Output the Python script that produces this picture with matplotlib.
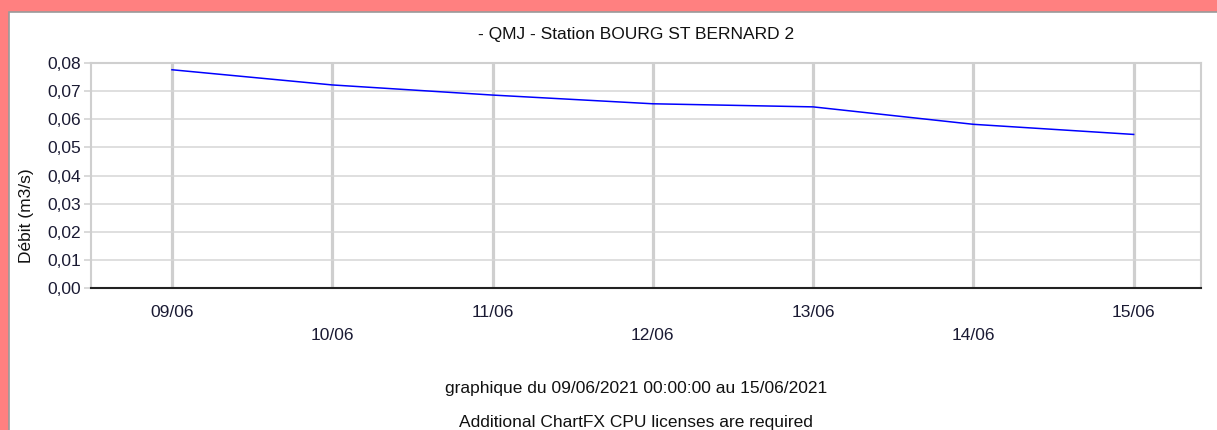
import matplotlib
matplotlib.use("Agg")
import matplotlib.pyplot as plt
import matplotlib.patches as mpatches
import matplotlib.dates as mdates
import pandas as pd

# daily mean flow (QMJ)
dates = ["2021-06-09", "2021-06-10", "2021-06-11", "2021-06-12",
         "2021-06-13", "2021-06-14", "2021-06-15"]
flow = [0.0776, 0.0722, 0.0686, 0.0655, 0.0644, 0.0582, 0.0546]
y_ticks = [0.00, 0.01, 0.02, 0.03, 0.04, 0.05, 0.06, 0.07, 0.08]

title = "- QMJ - Station BOURG ST BERNARD 2"
y_label = "Débit (m3/s)"
footer1 = "graphique du 09/06/2021 00:00:00 au 15/06/2021"
footer2 = "Additional ChartFX CPU licenses are required"

plt.rcParams['font.family'] = ['Liberation Sans', 'DejaVu Sans']
FS = 12.5

W, H = 1217, 430
fig = plt.figure(figsize=(W / 100, H / 100), dpi=100, facecolor='#FF8080')

# white panel with grey frame, behind the axes
panel = mpatches.Rectangle((9 / W, -0.01), 1.0, (H - 12) / H + 0.01,
                           transform=fig.transFigure, facecolor='white',
                           edgecolor='#9a9a9a', linewidth=1.2, zorder=-10)
fig.patches.append(panel)

ax = fig.add_axes([91 / W, 1 - 288 / H, (1201 - 91) / W, (288 - 63) / H])
ax.set_facecolor('white')

x = mdates.date2num(pd.to_datetime(dates).to_pydatetime())
ax.plot(x, flow, color='#0000FF', linewidth=1.1, zorder=3)

ax.set_xlim(x[0] - 0.505, x[-1] + 0.42)
ax.set_ylim(0, 0.08)

ax.set_yticks(y_ticks)
ax.set_yticklabels([f"{v:.2f}".replace('.', ',') for v in y_ticks])
ax.set_xticks(x)
ax.set_xticklabels(pd.to_datetime(dates).strftime("%d/%m"))

ax.grid(axis='y', color='#d6d6d6', linewidth=1.1, zorder=1)
ax.grid(axis='x', color='#cfcfcf', linewidth=2.3, zorder=1)

for side in ['left', 'top', 'right']:
    ax.spines[side].set_color('#cfcfcf')
    ax.spines[side].set_linewidth(1.5)
ax.spines['bottom'].set_color('#222222')
ax.spines['bottom'].set_linewidth(1.5)

ax.tick_params(axis='y', length=5, color='#cfcfcf', width=1.1,
               labelsize=FS, labelcolor='#1a1a33', pad=2)
ax.tick_params(axis='x', length=0, labelsize=FS, labelcolor='#1a1a33')

# staggered date labels
for i, t in enumerate(ax.xaxis.get_major_ticks()):
    t.set_pad(12 if i % 2 == 0 else 29)

fig.text(636 / W, 1 - 34 / H, title, ha='center', va='center',
         fontsize=FS, color='#111111')
fig.text(27 / W, 1 - 216 / H, y_label, ha='center', va='center',
         rotation=90, fontsize=FS, color='#111111')
fig.text(636 / W, 1 - 388 / H, footer1, ha='center', va='center',
         fontsize=FS, color='#111111')
fig.text(636 / W, 1 - 422 / H, footer2, ha='center', va='center',
         fontsize=FS, color='#111111')

fig.savefig("out.png", dpi=100, facecolor=fig.get_facecolor())
